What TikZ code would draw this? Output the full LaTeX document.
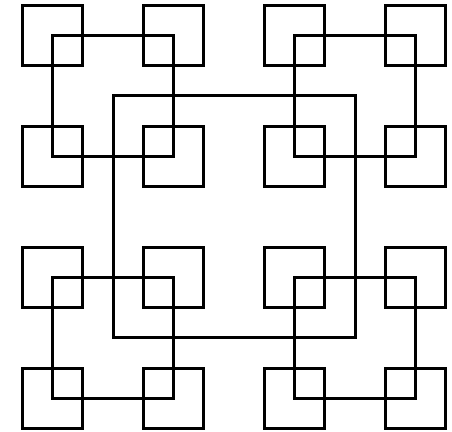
\documentclass[tikz,border=0pt]{standalone}
\definecolor{sqInk}{RGB}{0,0,0}
\begin{document}
\begin{tikzpicture}[x=0.75pt,y=0.75pt,line width=2.25pt]
\tikzset{sqline/.style={draw=sqInk}}
\useasboundingbox (0,0) rectangle (452,431);
\draw[sqline] (113.500,93.500) rectangle (355.500,335.500);
\draw[sqline] (52.500,32.500) rectangle (173.500,153.500);
\draw[sqline] (294.500,32.500) rectangle (415.500,153.500);
\draw[sqline] (52.500,274.500) rectangle (173.500,395.500);
\draw[sqline] (294.500,274.500) rectangle (415.500,395.500);
\draw[sqline] (22.500,2.500) rectangle (82.500,62.500);
\draw[sqline] (143.500,2.500) rectangle (203.500,62.500);
\draw[sqline] (22.500,123.500) rectangle (82.500,183.500);
\draw[sqline] (143.500,123.500) rectangle (203.500,183.500);
\draw[sqline] (264.500,2.500) rectangle (324.500,62.500);
\draw[sqline] (385.500,2.500) rectangle (445.500,62.500);
\draw[sqline] (264.500,123.500) rectangle (324.500,183.500);
\draw[sqline] (385.500,123.500) rectangle (445.500,183.500);
\draw[sqline] (22.500,244.500) rectangle (82.500,304.500);
\draw[sqline] (143.500,244.500) rectangle (203.500,304.500);
\draw[sqline] (22.500,365.500) rectangle (82.500,425.500);
\draw[sqline] (143.500,365.500) rectangle (203.500,425.500);
\draw[sqline] (264.500,244.500) rectangle (324.500,304.500);
\draw[sqline] (385.500,244.500) rectangle (445.500,304.500);
\draw[sqline] (264.500,365.500) rectangle (324.500,425.500);
\draw[sqline] (385.500,365.500) rectangle (445.500,425.500);
\end{tikzpicture}
\end{document}
